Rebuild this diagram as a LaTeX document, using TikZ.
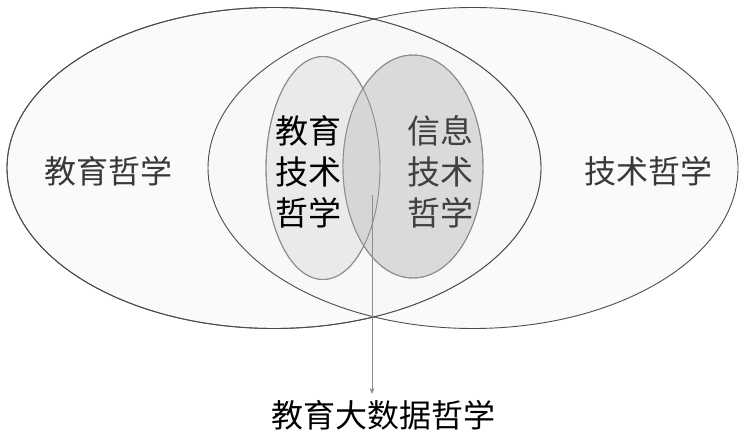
\documentclass[tikz,border=0pt]{standalone}
\usepackage{fontspec}
\newfontfamily\cjk{Noto Sans CJK SC}
\usetikzlibrary{shapes.geometric,arrows.meta}
\definecolor{bigfill}{HTML}{F7F7F7}
\definecolor{lfill}{HTML}{EAEAEA}
\definecolor{rfill}{HTML}{DADADA}
\definecolor{ofill}{HTML}{D6D6D6}
\tikzset{
  bigell/.style={ellipse, draw=black!70, line width=0.9pt, fill=bigfill, fill opacity=0.6, inner sep=0pt},
  smallell/.style={ellipse, draw=black!45, line width=0.9pt, inner sep=0pt},
  lbl/.style={font=\cjk\fontsize{32}{41}\selectfont, text=black!78, align=center, inner sep=0pt},
}
\begin{document}
\begin{tikzpicture}[x=1pt,y=-1pt]
\useasboundingbox (0,0) rectangle (743,443);
\fill[white] (0,0) rectangle (743,443);
% big ellipses
\node[bigell, minimum width=534pt, minimum height=321pt] (L) at (274,168) {};
\node[bigell, minimum width=530pt, minimum height=321pt] (R) at (473,168) {};
\draw[black!70, line width=0.9pt] (274,168) ellipse [x radius=267pt, y radius=160.5pt];
% small ellipses
\node[smallell, fill=lfill, minimum width=114pt, minimum height=223pt] (SL) at (323,168) {};
\node[smallell, fill=rfill, minimum width=140pt, minimum height=223pt] (SR) at (413,166.5) {};
\begin{scope}
  \clip (323,168) ellipse [x radius=57pt, y radius=111.5pt];
  \fill[ofill] (413,166.5) ellipse [x radius=70pt, y radius=111.5pt];
\end{scope}
\draw[black!45, line width=0.9pt] (323,168) ellipse [x radius=57pt, y radius=111.5pt];
\draw[black!45, line width=0.9pt] (413,166.5) ellipse [x radius=70pt, y radius=111.5pt];
% labels
\node[lbl] (t1) at (108,171) {教育哲学};
\node[lbl] (t2) at (648,171) {技术哲学};
\node[lbl, text=black, font=\cjk\fontsize{33}{41}\selectfont] (t3) at (308,172) {教育\\技术\\哲学};
\node[lbl, text=black!75, font=\cjk\fontsize{33}{41}\selectfont] (t4) at (440,172) {信息\\技术\\哲学};
\node[lbl, text=black] (t5) at (383,415) {教育大数据哲学};
% arrow
\coordinate (a0) at (372,195);
\draw[black!45, line width=0.8pt, -{Stealth[length=6pt,width=5pt]}, shorten >=6pt] (a0) -- (a0 |- t5.north);
\end{tikzpicture}
\end{document}
